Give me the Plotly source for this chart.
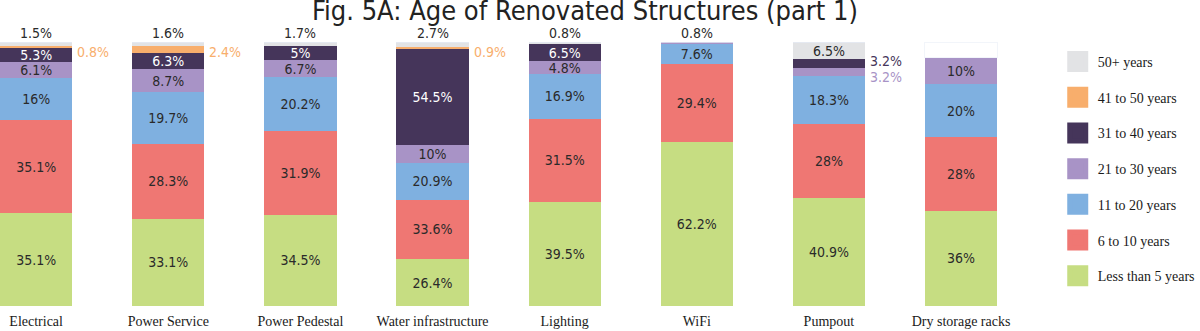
import plotly.graph_objects as go

categories = ["Electrical", "Power Service", "Power Pedestal", "Water infrastructure",
              "Lighting", "WiFi", "Pumpout", "Dry storage racks"]

# stacked bottom -> top
series_names = ["Less than 5 years", "6 to 10 years", "11 to 20 years", "21 to 30 years",
                "31 to 40 years", "41 to 50 years", "50+ years"]
less_than_5 = [35.1, 33.1, 34.5, 26.4, 39.5, 62.2, 40.9, 36]
y6_to_10 = [35.1, 28.3, 31.9, 33.6, 31.5, 29.4, 28, 28]
y11_to_20 = [16, 19.7, 20.2, 20.9, 16.9, 7.6, 18.3, 20]
y21_to_30 = [6.1, 8.7, 6.7, 10, 4.8, 0.8, 3.2, 10]
y31_to_40 = [5.3, 6.3, 5, 54.5, 6.5, 0, 3.2, 0]
y41_to_50 = [0.8, 2.4, 0, 0.9, 0, 0, 0, 0]
y50_plus = [1.5, 1.6, 1.7, 2.7, 0.8, 0, 6.5, 0]
unlabeled = [0, 0, 0, 0, 0, 0, 0, 6]  # unshown remainder (Dry storage racks)

series_values = [less_than_5, y6_to_10, y11_to_20, y21_to_30, y31_to_40, y41_to_50, y50_plus]
colors = ["#c6dd82", "#ef7773", "#7fb0e0", "#a893c6", "#45355a", "#f8ae6c", "#e2e3e5"]
text_colors = ["#2a2a2a", "#2a2a2a", "#2a2a2a", "#2a2a2a", "#ffffff", "#2a2a2a", "#2a2a2a"]

# labels drawn outside the bar
outside_above = {(6, 0), (6, 1), (6, 2), (6, 3), (6, 4), (3, 5)}
outside_right = {(5, 0): 5, (5, 1): 3, (5, 3): 4, (4, 6): -2.5, (3, 6): 5}

LABEL_FONT = "Liberation Sans Narrow, DejaVu Sans Condensed, Roboto, sans-serif"
SERIF = "Liberation Serif, Times New Roman, serif"
LABEL_SIZE = 14
BAR_W = 0.547

def fmt(v):
    return f"{v:g}%"

fig = go.Figure()
for si, (name, vals) in enumerate(zip(series_names, series_values)):
    texts = []
    for ci, v in enumerate(vals):
        if v == 0 or (si, ci) in outside_above or (si, ci) in outside_right:
            texts.append("")
        else:
            texts.append(fmt(v))
    fig.add_trace(go.Bar(
        x=categories, y=vals, name=name, marker=dict(color=colors[si], line=dict(width=0)),
        text=texts, texttemplate="%{text}", textposition="inside", insidetextanchor="middle",
        textangle=0, insidetextfont=dict(family=LABEL_FONT, size=LABEL_SIZE, color=text_colors[si]),
        showlegend=False, hoverinfo="skip", width=BAR_W,
    ))
fig.add_trace(go.Bar(x=categories, y=unlabeled, marker=dict(color="rgba(0,0,0,0)"),
                     showlegend=False, hoverinfo="skip", width=BAR_W))

# legend entries (top -> bottom)
for si in reversed(range(len(series_names))):
    fig.add_trace(go.Scatter(
        x=[None], y=[None], mode="markers", name=series_names[si], legendgroup=series_names[si],
        marker=dict(symbol="square", size=16, color=colors[si], line=dict(color=colors[si], width=6)),
        showlegend=True, hoverinfo="skip",
    ))

# normalized positions for outside labels
totals = [sum(s[ci] for s in series_values) + unlabeled[ci] for ci in range(len(categories))]
annotations = []
for (si, ci) in outside_above:
    annotations.append(dict(x=ci, y=100, xref="x", yref="y", text=fmt(series_values[si][ci]),
                            showarrow=False, yanchor="bottom", xanchor="center", yshift=-1,
                            font=dict(family=LABEL_FONT, size=LABEL_SIZE, color="#2a2a2a")))
for (si, ci), ysh in outside_right.items():
    below = sum(series_values[k][ci] for k in range(si))
    center = (below + series_values[si][ci] / 2) / totals[ci] * 100
    annotations.append(dict(x=ci + BAR_W / 2, y=center, xref="x", yref="y",
                            text=fmt(series_values[si][ci]), showarrow=False,
                            xanchor="left", yanchor="middle", xshift=3, yshift=-ysh,
                            font=dict(family=LABEL_FONT, size=LABEL_SIZE, color=colors[si])))

fig.update_layout(
    width=1200, height=331,
    margin=dict(l=0, r=160, t=42, b=25),
    barmode="stack", barnorm="percent",
    plot_bgcolor="white", paper_bgcolor="white",
    title=dict(text="Fig. 5A: Age of Renovated Structures (part 1)",
               x=585 / 1200, xanchor="center", xref="container",
               y=1, yanchor="top", yref="container", pad=dict(t=1),
               font=dict(family="Liberation Sans Narrow, DejaVu Sans Condensed, Roboto Condensed, Roboto",
                         size=27, color="#222222")),
    xaxis=dict(type="category", range=[-0.2736, 7.575], showgrid=False, showline=False,
               ticks="", ticklabelstandoff=5,
               tickfont=dict(family=SERIF, size=14, color="#1a1a1a"), fixedrange=True),
    yaxis=dict(range=[0, 100], visible=False, fixedrange=True),
    legend=dict(x=1.02, xanchor="left", y=0.985, yanchor="top", traceorder="grouped",
                tracegroupgap=14.5, itemsizing="trace",
                font=dict(family=SERIF, size=14, color="#1a1a1a"), bgcolor="rgba(0,0,0,0)"),
    uniformtext=dict(minsize=LABEL_SIZE, mode="show"),
    annotations=annotations,
    showlegend=True,
)

fig.write_html("out.html")
